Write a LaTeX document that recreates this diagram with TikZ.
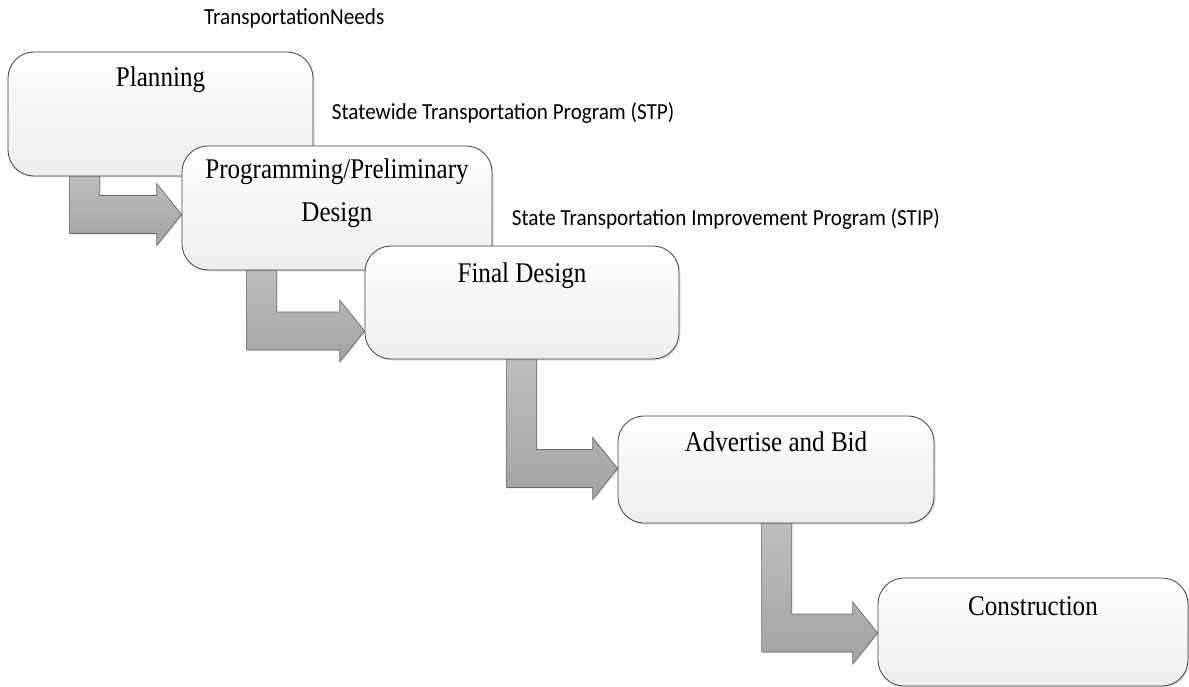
\documentclass[tikz,border=0pt]{standalone}
\usepackage{fontspec}
\setmainfont{Liberation Serif}[FakeStretch=0.88]
\newfontfamily\notefont{Carlito}[FakeStretch=0.92]
\usetikzlibrary{calc,shadows,backgrounds}

\tikzset{
  stage/.style={draw=black!75, line width=0.8pt, rounded corners=26pt,
    top color=white, bottom color=black!7,
    drop shadow={opacity=0.25, shadow xshift=1.5pt, shadow yshift=-1.5pt},
    inner xsep=0pt, inner ysep=0pt, align=center,
    font=\fontsize{28.5}{43}\selectfont},
  blockarrow/.style={draw=black!60, line width=0.7pt, top color=black!25, bottom color=black!36,
    drop shadow={opacity=0.2, shadow xshift=1.2pt, shadow yshift=-1.2pt}},
  note/.style={anchor=base west, inner sep=0pt, font=\notefont\fontsize{23}{28}\selectfont}
}

% bent block arrow: source, target, stem offset, tip shift
\newcommand{\bentarrow}[4]{%
  \path[blockarrow] let \p1=($(#1.south west)+(#3pt,5pt)$), \p2=($(#2.west)+(0pt,#4pt)$) in
    (\x1,\y1) -- (\x1+30pt,\y1) -- (\x1+30pt,\y2+19pt) -- (\x2-25pt,\y2+19pt)
    -- (\x2-25pt,\y2+31pt) -- (\x2,\y2) -- (\x2-25pt,\y2-31pt)
    -- (\x2-25pt,\y2-19pt) -- (\x1,\y2-19pt) -- cycle;}

\begin{document}
\begin{tikzpicture}[x=1pt, y=-1pt]
\useasboundingbox (0,0) rectangle (1189,687);

% stages
\node[stage, minimum width=305pt, minimum height=124pt, text height=34.7pt, text depth=89.3pt] (plan) at (160.5,114) {Planning};
\node[stage, minimum width=310pt, minimum height=124pt, text height=75.7pt, text depth=48.3pt] (prog) at (337,208) {Programming/Preliminary\\Design};
\node[stage, minimum width=314pt, minimum height=113pt, text height=36.7pt, text depth=76.3pt] (final) at (522,302.5) {Final Design};
\node[stage, minimum width=316pt, minimum height=107pt, text height=35.7pt, text depth=71.3pt] (bid) at (776,469.5) {Advertise and Bid};
\node[stage, minimum width=310pt, minimum height=108pt, text height=37pt, text depth=71pt] (build) at (1033,632) {Construction};

% documents
\node[note] (needs) at (204,25) {TransportationNeeds};
\node[note] (stp) at (331.7,120) {Statewide Transportation Program (STP)};
\node[note] (stip) at (511.7,225.7) {State Transportation Improvement Program (STIP)};

% arrows between stages
\begin{scope}[on background layer]
\bentarrow{plan}{prog}{62}{-6.5}
\bentarrow{prog}{final}{65}{-28.5}
\bentarrow{final}{bid}{142}{1}
\bentarrow{bid}{build}{144}{-1}
\end{scope}
\end{tikzpicture}
\end{document}
